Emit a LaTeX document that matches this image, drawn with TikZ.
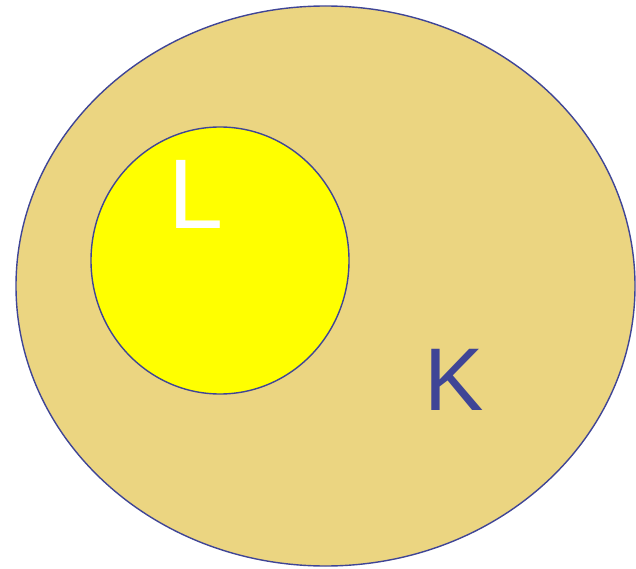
\documentclass[tikz,border=0pt]{standalone}
\usepackage{fontspec}
\setmainfont{Liberation Sans}
\definecolor{khaki}{HTML}{EBD581}
\definecolor{edgeblue}{HTML}{3F4596}
\definecolor{yel}{HTML}{FFFF00}
\tikzset{
  setshape/.style={draw=edgeblue, line width=1.4pt},
  lbl/.style={inner sep=0pt, outer sep=0pt, anchor=base west}
}
\begin{document}
\begin{tikzpicture}[x=1pt,y=1pt]
\useasboundingbox (0,0) rectangle (636,-569);
\draw[setshape, fill=khaki] (325.5,-286) ellipse [x radius=309.5, y radius=280];
\draw[setshape, fill=yel] (220,-260.5) ellipse [x radius=129, y radius=133.5];
\node[lbl, text=white, font=\fontsize{99}{110}\selectfont] (L) at (168,-228) {L};
\node[lbl, text=edgeblue, font=\fontsize{89}{100}\selectfont] (K) at (424.5,-410) {K};
\end{tikzpicture}
\end{document}
